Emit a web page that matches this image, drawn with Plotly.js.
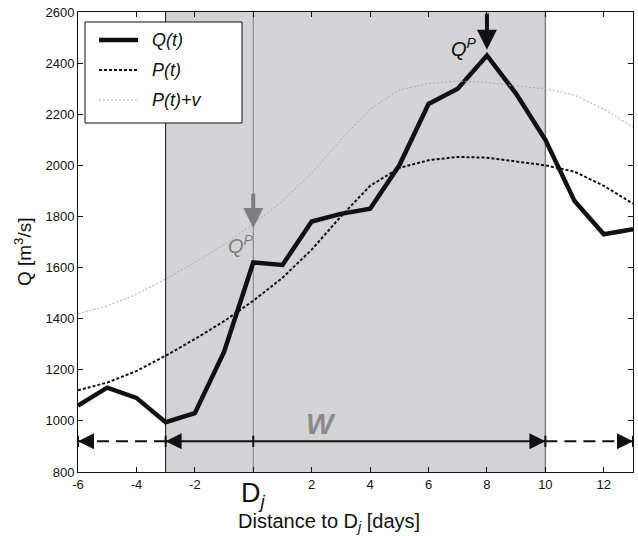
<!DOCTYPE html>
<html><head><meta charset="utf-8">
<script src="https://cdn.plot.ly/plotly-3.0.1.min.js"></script>
<style>body{margin:0;background:#fff}#c{width:638px;height:536px}</style>
</head><body><div id="c"></div>
<script>
const days = [-6,-5,-4,-3,-2,-1,0,1,2,3,4,5,6,7,8,9,10,11,12,13];
const Q  = [1060,1130,1090,995,1030,1270,1620,1610,1780,1810,1830,2000,2240,2300,2430,2280,2100,1860,1730,1750];
const P  = [1120,1150,1195,1255,1320,1390,1470,1560,1670,1800,1920,1990,2020,2033,2030,2015,2000,1975,1920,1850];
const Pv = [1420,1450,1495,1555,1620,1690,1770,1860,1970,2100,2220,2295,2320,2330,2325,2310,2300,2275,2220,2150];
const seriesNames = ['Q(t)', 'P(t)', 'P(t)+v'];
const winStart = -3, winEnd = 10, Dj = 0, peakDay = 8, arrowY = 920;
const xTicks = [-6,-4,-2,0,2,4,6,8,10,12];
const xTickText = ['-6','-4','-2','','2','4','6','8','10','12'];
const yTicks = [800,1000,1200,1400,1600,1800,2000,2200,2400,2600];

const FONT = 'Liberation Sans, Arial, sans-serif';
const GRAY = '#7f7f7f';
const styles = [
  {color:'#111', width:4.5},
  {color:'#111', width:2, dash:'3px,2px'},
  {color:'#aaa', width:1, dash:'2px,2px'}
];

const traces = [
  {x: days, y: Q, mode:'lines', name:seriesNames[0], line:styles[0]},
  {x: days, y: P, mode:'lines', name:seriesNames[1], line:styles[1]},
  {x: days, y: Pv, mode:'lines', name:seriesNames[2], line:styles[2]}
];

const first = days[0], last = days[days.length-1];
const shapes = [
  {type:'rect', xref:'x', yref:'paper', x0:winStart, x1:winEnd, y0:0, y1:1, fillcolor:'#d3d3d5', line:{width:0}, layer:'below'},
  {type:'line', xref:'x', yref:'paper', x0:winStart, x1:winStart, y0:0, y1:1, line:{color:'#111', width:1}, layer:'below'},
  {type:'line', xref:'x', yref:'paper', x0:Dj, x1:Dj, y0:0, y1:1, line:{color:GRAY, width:1}, layer:'below'},
  {type:'line', xref:'x', yref:'paper', x0:winEnd, x1:winEnd, y0:0, y1:1, line:{color:GRAY, width:1.5}, layer:'below'},
  {type:'line', xref:'x', yref:'y', x0:first, x1:winStart, y0:arrowY, y1:arrowY, line:{color:'#111', width:2, dash:'12px,7px'}},
  {type:'line', xref:'x', yref:'y', x0:winStart, x1:winEnd, y0:arrowY, y1:arrowY, line:{color:'#111', width:2}},
  {type:'line', xref:'x', yref:'y', x0:winEnd, x1:last, y0:arrowY, y1:arrowY, line:{color:'#111', width:2, dash:'12px,7px'}},
];
[first, winStart, Dj, winEnd, last].forEach(v => {
  shapes.push({type:'line', xref:'x', yref:'y', x0:v, x1:v, y0:arrowY-22, y1:arrowY+22, line:{color:'#111', width:2}});
});

const annotations = [];
[[first, 1], [winStart, 1], [winEnd, -1], [last, -1]].forEach(([v, dir]) => {
  annotations.push({x:v, y:arrowY, xref:'x', yref:'y', ax:dir*14, ay:0, showarrow:true, arrowhead:2, arrowsize:1.6, arrowwidth:2, arrowcolor:'#111', text:''});
});
annotations.push(
  {x:Dj, y:1755, ax:Dj, ay:1895, xref:'x', yref:'y', axref:'x', ayref:'y', showarrow:true, arrowhead:2, arrowsize:1, arrowwidth:4, arrowcolor:GRAY, text:''},
  {x:Dj, y:1690, xref:'x', yref:'y', text:'<i>Q<sup>P</sup></i>', showarrow:false, xanchor:'right', yanchor:'middle', xshift:3, font:{family:FONT, size:20, color:GRAY}},
  {x:peakDay, y:2452, ax:peakDay, ay:2600, xref:'x', yref:'y', axref:'x', ayref:'y', showarrow:true, arrowhead:2, arrowsize:1, arrowwidth:4, arrowcolor:'#111', text:''},
  {x:peakDay, y:2462, xref:'x', yref:'y', text:'<i>Q<sup>P</sup></i>', showarrow:false, xanchor:'right', yanchor:'middle', xshift:-8, font:{family:FONT, size:20, color:'#111'}},
  {x:2.32, y:988, xref:'x', yref:'y', text:'<i><b>W</b></i>', showarrow:false, font:{family:FONT, size:29, color:'#8a8a8a'}},
  {x:Dj, y:0, xref:'x', yref:'paper', yshift:-4, xshift:0, text:'D<sub><i>j</i></sub>', showarrow:false, yanchor:'top', font:{family:FONT, size:27, color:'#111'}},
  {x:0.452, y:0, xref:'paper', yref:'paper', yshift:-50, text:'Distance to D<sub><i>j</i></sub> [days]', showarrow:false, yanchor:'middle', font:{family:FONT, size:20, color:'#111'}},
  {x:0, y:0.478, xref:'paper', yref:'paper', xshift:-55, text:'Q [m<sup>3</sup>/s]', textangle:-90, showarrow:false, xanchor:'center', yanchor:'middle', font:{family:FONT, size:19, color:'#111'}}
);

// manual legend (pixel geometry converted to paper coords)
const L = 78, W = 555, T = 12, H = 460;
const px = v => (v - L) / W, py = v => (T + H - v) / H;
shapes.push({type:'rect', xref:'paper', yref:'paper', x0:px(85), x1:px(242), y0:py(123), y1:py(22), fillcolor:'#fff', line:{color:'#111', width:1}});
[40, 70, 100].forEach((ry, i) => {
  shapes.push({type:'line', xref:'paper', yref:'paper', x0:px(99), x1:px(138), y0:py(ry), y1:py(ry), line:styles[i]});
  annotations.push({x:px(150), y:py(ry), xref:'paper', yref:'paper', text:'<i>'+seriesNames[i]+'</i>', showarrow:false, xanchor:'left', yanchor:'middle', font:{family:FONT, size:18, color:'#111'}});
});

const layout = {
  width:638, height:536,
  margin:{l:L, r:5, t:T, b:64},
  paper_bgcolor:'#fff', plot_bgcolor:'#fff',
  font:{family:FONT, size:13, color:'#111'},
  showlegend:false,
  xaxis:{range:[-6,13], tickvals:xTicks, ticktext:xTickText, ticks:'inside', ticklen:5, tickcolor:'#111',
         showgrid:false, zeroline:false, showline:true, linecolor:'#111', linewidth:1, mirror:'ticks',
         tickfont:{family:FONT, size:13}},
  yaxis:{range:[800,2600], tickvals:yTicks, ticks:'inside', ticklen:5, tickcolor:'#111',
         showgrid:false, zeroline:false, showline:true, linecolor:'#111', linewidth:1, mirror:'ticks',
         tickfont:{family:FONT, size:13}},
  shapes, annotations
};
Plotly.newPlot('c', traces, layout, {displayModeBar:false, staticPlot:true});
</script></body></html>
